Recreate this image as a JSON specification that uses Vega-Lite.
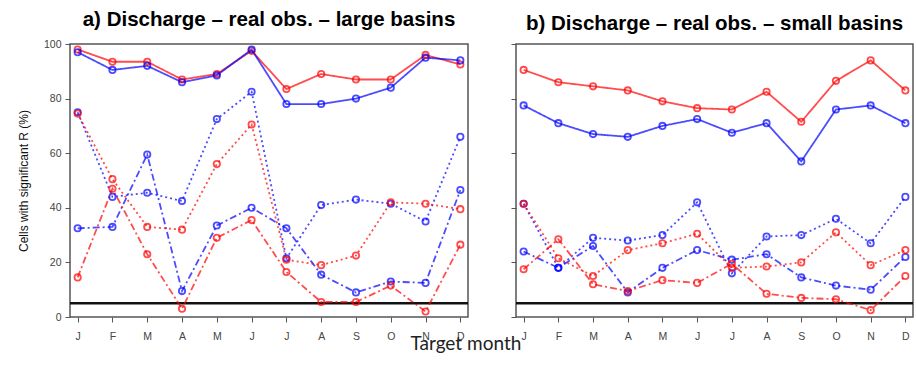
{
  "$schema": "https://vega.github.io/schema/vega-lite/v6.json",
  "padding": {"left": 16, "top": 8, "right": 4, "bottom": 0},
  "spacing": 39,
  "config": {
    "view": {"stroke": "#555", "strokeWidth": 1.5},
    "font": "Liberation Sans",
    "axis": {"grid": false, "domain": false, "tickColor": "#555", "tickSize": 5, "labelColor": "#444", "labelFontSize": 10.5, "labelFont": "Liberation Sans"}
  },
  "title": {"text": "Target month", "orient": "bottom", "anchor": "middle", "baseline": "bottom", "font": "Lato", "fontSize": 19, "fontWeight": "normal", "color": "#222", "offset": 12},
  "datasets": {
    "a": [
      {"m":"Jan","src":"S1","kind":"K1","v":98},{"m":"Feb","src":"S1","kind":"K1","v":93.5},{"m":"Mar","src":"S1","kind":"K1","v":93.5},{"m":"Apr","src":"S1","kind":"K1","v":87},{"m":"May","src":"S1","kind":"K1","v":89},{"m":"Jun","src":"S1","kind":"K1","v":97.5},{"m":"Jul","src":"S1","kind":"K1","v":83.5},{"m":"Aug","src":"S1","kind":"K1","v":89},{"m":"Sep","src":"S1","kind":"K1","v":87},{"m":"Oct","src":"S1","kind":"K1","v":87},{"m":"Nov","src":"S1","kind":"K1","v":96},{"m":"Dec","src":"S1","kind":"K1","v":92.5},
      {"m":"Jan","src":"S2","kind":"K1","v":97},{"m":"Feb","src":"S2","kind":"K1","v":90.5},{"m":"Mar","src":"S2","kind":"K1","v":92},{"m":"Apr","src":"S2","kind":"K1","v":86},{"m":"May","src":"S2","kind":"K1","v":88.5},{"m":"Jun","src":"S2","kind":"K1","v":98},{"m":"Jul","src":"S2","kind":"K1","v":78},{"m":"Aug","src":"S2","kind":"K1","v":78},{"m":"Sep","src":"S2","kind":"K1","v":80},{"m":"Oct","src":"S2","kind":"K1","v":84},{"m":"Nov","src":"S2","kind":"K1","v":95},{"m":"Dec","src":"S2","kind":"K1","v":94},
      {"m":"Jan","src":"S2","kind":"K2","v":75},{"m":"Feb","src":"S2","kind":"K2","v":44},{"m":"Mar","src":"S2","kind":"K2","v":45.5},{"m":"Apr","src":"S2","kind":"K2","v":42.5},{"m":"May","src":"S2","kind":"K2","v":72.5},{"m":"Jun","src":"S2","kind":"K2","v":82.5},{"m":"Jul","src":"S2","kind":"K2","v":21.5},{"m":"Aug","src":"S2","kind":"K2","v":41},{"m":"Sep","src":"S2","kind":"K2","v":43},{"m":"Oct","src":"S2","kind":"K2","v":41.5},{"m":"Nov","src":"S2","kind":"K2","v":35},{"m":"Dec","src":"S2","kind":"K2","v":66},
      {"m":"Jan","src":"S2","kind":"K3","v":32.5},{"m":"Feb","src":"S2","kind":"K3","v":33},{"m":"Mar","src":"S2","kind":"K3","v":59.5},{"m":"Apr","src":"S2","kind":"K3","v":9.5},{"m":"May","src":"S2","kind":"K3","v":33.5},{"m":"Jun","src":"S2","kind":"K3","v":40},{"m":"Jul","src":"S2","kind":"K3","v":32.5},{"m":"Aug","src":"S2","kind":"K3","v":15.5},{"m":"Sep","src":"S2","kind":"K3","v":9},{"m":"Oct","src":"S2","kind":"K3","v":13},{"m":"Nov","src":"S2","kind":"K3","v":12.5},{"m":"Dec","src":"S2","kind":"K3","v":46.5},
      {"m":"Jan","src":"S1","kind":"K2","v":74.5},{"m":"Feb","src":"S1","kind":"K2","v":50.5},{"m":"Mar","src":"S1","kind":"K2","v":33},{"m":"Apr","src":"S1","kind":"K2","v":32},{"m":"May","src":"S1","kind":"K2","v":56},{"m":"Jun","src":"S1","kind":"K2","v":70.5},{"m":"Jul","src":"S1","kind":"K2","v":21},{"m":"Aug","src":"S1","kind":"K2","v":19},{"m":"Sep","src":"S1","kind":"K2","v":22.5},{"m":"Oct","src":"S1","kind":"K2","v":42},{"m":"Nov","src":"S1","kind":"K2","v":41.5},{"m":"Dec","src":"S1","kind":"K2","v":39.5},
      {"m":"Jan","src":"S1","kind":"K3","v":14.5},{"m":"Feb","src":"S1","kind":"K3","v":47},{"m":"Mar","src":"S1","kind":"K3","v":23},{"m":"Apr","src":"S1","kind":"K3","v":3},{"m":"May","src":"S1","kind":"K3","v":29},{"m":"Jun","src":"S1","kind":"K3","v":35.5},{"m":"Jul","src":"S1","kind":"K3","v":16.5},{"m":"Aug","src":"S1","kind":"K3","v":5.5},{"m":"Sep","src":"S1","kind":"K3","v":5.5},{"m":"Oct","src":"S1","kind":"K3","v":11.5},{"m":"Nov","src":"S1","kind":"K3","v":2},{"m":"Dec","src":"S1","kind":"K3","v":26.5}
    ],
    "b": [
      {"m":"Jan","src":"S1","kind":"K1","v":90.5},{"m":"Feb","src":"S1","kind":"K1","v":86},{"m":"Mar","src":"S1","kind":"K1","v":84.5},{"m":"Apr","src":"S1","kind":"K1","v":83},{"m":"May","src":"S1","kind":"K1","v":79},{"m":"Jun","src":"S1","kind":"K1","v":76.5},{"m":"Jul","src":"S1","kind":"K1","v":76},{"m":"Aug","src":"S1","kind":"K1","v":82.5},{"m":"Sep","src":"S1","kind":"K1","v":71.5},{"m":"Oct","src":"S1","kind":"K1","v":86.5},{"m":"Nov","src":"S1","kind":"K1","v":94},{"m":"Dec","src":"S1","kind":"K1","v":83},
      {"m":"Jan","src":"S2","kind":"K1","v":77.5},{"m":"Feb","src":"S2","kind":"K1","v":71},{"m":"Mar","src":"S2","kind":"K1","v":67},{"m":"Apr","src":"S2","kind":"K1","v":66},{"m":"May","src":"S2","kind":"K1","v":70},{"m":"Jun","src":"S2","kind":"K1","v":72.5},{"m":"Jul","src":"S2","kind":"K1","v":67.5},{"m":"Aug","src":"S2","kind":"K1","v":71},{"m":"Sep","src":"S2","kind":"K1","v":57},{"m":"Oct","src":"S2","kind":"K1","v":76},{"m":"Nov","src":"S2","kind":"K1","v":77.5},{"m":"Dec","src":"S2","kind":"K1","v":71},
      {"m":"Jan","src":"S2","kind":"K2","v":41.5},{"m":"Feb","src":"S2","kind":"K2","v":18},{"m":"Mar","src":"S2","kind":"K2","v":29},{"m":"Apr","src":"S2","kind":"K2","v":28},{"m":"May","src":"S2","kind":"K2","v":30},{"m":"Jun","src":"S2","kind":"K2","v":42},{"m":"Jul","src":"S2","kind":"K2","v":16},{"m":"Aug","src":"S2","kind":"K2","v":29.5},{"m":"Sep","src":"S2","kind":"K2","v":30},{"m":"Oct","src":"S2","kind":"K2","v":36},{"m":"Nov","src":"S2","kind":"K2","v":27},{"m":"Dec","src":"S2","kind":"K2","v":44},
      {"m":"Jan","src":"S2","kind":"K3","v":24},{"m":"Feb","src":"S2","kind":"K3","v":18},{"m":"Mar","src":"S2","kind":"K3","v":26},{"m":"Apr","src":"S2","kind":"K3","v":9},{"m":"May","src":"S2","kind":"K3","v":18},{"m":"Jun","src":"S2","kind":"K3","v":24.5},{"m":"Jul","src":"S2","kind":"K3","v":21},{"m":"Aug","src":"S2","kind":"K3","v":23},{"m":"Sep","src":"S2","kind":"K3","v":14.5},{"m":"Oct","src":"S2","kind":"K3","v":11.5},{"m":"Nov","src":"S2","kind":"K3","v":10},{"m":"Dec","src":"S2","kind":"K3","v":22},
      {"m":"Jan","src":"S1","kind":"K2","v":41.5},{"m":"Feb","src":"S1","kind":"K2","v":21.5},{"m":"Mar","src":"S1","kind":"K2","v":15},{"m":"Apr","src":"S1","kind":"K2","v":24.5},{"m":"May","src":"S1","kind":"K2","v":27},{"m":"Jun","src":"S1","kind":"K2","v":30.5},{"m":"Jul","src":"S1","kind":"K2","v":18},{"m":"Aug","src":"S1","kind":"K2","v":18.5},{"m":"Sep","src":"S1","kind":"K2","v":20},{"m":"Oct","src":"S1","kind":"K2","v":31},{"m":"Nov","src":"S1","kind":"K2","v":19},{"m":"Dec","src":"S1","kind":"K2","v":24.5},
      {"m":"Jan","src":"S1","kind":"K3","v":17.5},{"m":"Feb","src":"S1","kind":"K3","v":28.5},{"m":"Mar","src":"S1","kind":"K3","v":12},{"m":"Apr","src":"S1","kind":"K3","v":9.5},{"m":"May","src":"S1","kind":"K3","v":13.5},{"m":"Jun","src":"S1","kind":"K3","v":12.5},{"m":"Jul","src":"S1","kind":"K3","v":19.5},{"m":"Aug","src":"S1","kind":"K3","v":8.5},{"m":"Sep","src":"S1","kind":"K3","v":7},{"m":"Oct","src":"S1","kind":"K3","v":6.5},{"m":"Nov","src":"S1","kind":"K3","v":2.5},{"m":"Dec","src":"S1","kind":"K3","v":15}
    ],
    "ref": [{"level": 5}]
  },
  "hconcat": [
    {
      "width": 398, "height": 273,
      "title": {"text": "a) Discharge – real obs. – large basins", "font": "Liberation Sans", "fontSize": 20.5, "fontWeight": "bold", "color": "#000", "offset": 9},
      "layer": [
        {
          "data": {"name": "ref"},
          "mark": {"type": "rule", "color": "#111", "strokeWidth": 2.5},
          "encoding": {
            "y": {"field": "level", "type": "quantitative", "scale": {"domain": [0, 100], "nice": false},
              "axis": {"values": [0, 20, 40, 60, 80, 100], "title": "Cells with significant R (%)", "titleFontSize": 12, "titleFontWeight": "normal", "titleColor": "#111", "titlePadding": 13, "labelPadding": 4}}
          }
        },
        {
          "data": {"name": "a"},
          "mark": {"type": "line", "strokeWidth": 1.8, "opacity": 0.7},
          "encoding": {
            "x": {"field": "m", "type": "ordinal", "sort": ["Jan","Feb","Mar","Apr","May","Jun","Jul","Aug","Sep","Oct","Nov","Dec"], "scale": {"type": "point", "padding": 0.22},
              "axis": {"labelExpr": "slice(datum.value, 0, 1)", "labelAngle": 0, "title": null, "labelPadding": 9}},
            "y": {"field": "v", "type": "quantitative"},
            "color": {"field": "src", "type": "nominal", "scale": {"domain": ["S1", "S2"], "range": ["#ff0000", "#0000ff"]}, "legend": null},
            "strokeDash": {"field": "kind", "type": "nominal", "scale": {"domain": ["K1", "K2", "K3"], "range": [[1, 0], [2, 3], [7, 3, 2, 3]]}, "legend": null}
          }
        },
        {
          "data": {"name": "a"},
          "mark": {"type": "point", "shape": "circle", "filled": false, "size": 40, "strokeWidth": 1.8, "opacity": 0.7},
          "encoding": {
            "x": {"field": "m", "type": "ordinal", "sort": ["Jan","Feb","Mar","Apr","May","Jun","Jul","Aug","Sep","Oct","Nov","Dec"]},
            "y": {"field": "v", "type": "quantitative"},
            "color": {"field": "src", "type": "nominal", "legend": null}
          }
        }
      ]
    },
    {
      "width": 397, "height": 273,
      "title": {"text": "b) Discharge – real obs. – small basins", "font": "Liberation Sans", "fontSize": 20.5, "fontWeight": "bold", "color": "#000", "offset": 9},
      "layer": [
        {
          "data": {"name": "ref"},
          "mark": {"type": "rule", "color": "#111", "strokeWidth": 2.5},
          "encoding": {
            "y": {"field": "level", "type": "quantitative", "scale": {"domain": [0, 100], "nice": false},
              "axis": {"values": [0, 20, 40, 60, 80, 100], "title": null, "labels": false}}
          }
        },
        {
          "data": {"name": "b"},
          "mark": {"type": "line", "strokeWidth": 1.8, "opacity": 0.7},
          "encoding": {
            "x": {"field": "m", "type": "ordinal", "sort": ["Jan","Feb","Mar","Apr","May","Jun","Jul","Aug","Sep","Oct","Nov","Dec"], "scale": {"type": "point", "padding": 0.22},
              "axis": {"labelExpr": "slice(datum.value, 0, 1)", "labelAngle": 0, "title": null, "labelPadding": 9}},
            "y": {"field": "v", "type": "quantitative"},
            "color": {"field": "src", "type": "nominal", "scale": {"domain": ["S1", "S2"], "range": ["#ff0000", "#0000ff"]}, "legend": null},
            "strokeDash": {"field": "kind", "type": "nominal", "scale": {"domain": ["K1", "K2", "K3"], "range": [[1, 0], [2, 3], [7, 3, 2, 3]]}, "legend": null}
          }
        },
        {
          "data": {"name": "b"},
          "mark": {"type": "point", "shape": "circle", "filled": false, "size": 40, "strokeWidth": 1.8, "opacity": 0.7},
          "encoding": {
            "x": {"field": "m", "type": "ordinal", "sort": ["Jan","Feb","Mar","Apr","May","Jun","Jul","Aug","Sep","Oct","Nov","Dec"]},
            "y": {"field": "v", "type": "quantitative"},
            "color": {"field": "src", "type": "nominal", "legend": null}
          }
        }
      ]
    }
  ]
}
